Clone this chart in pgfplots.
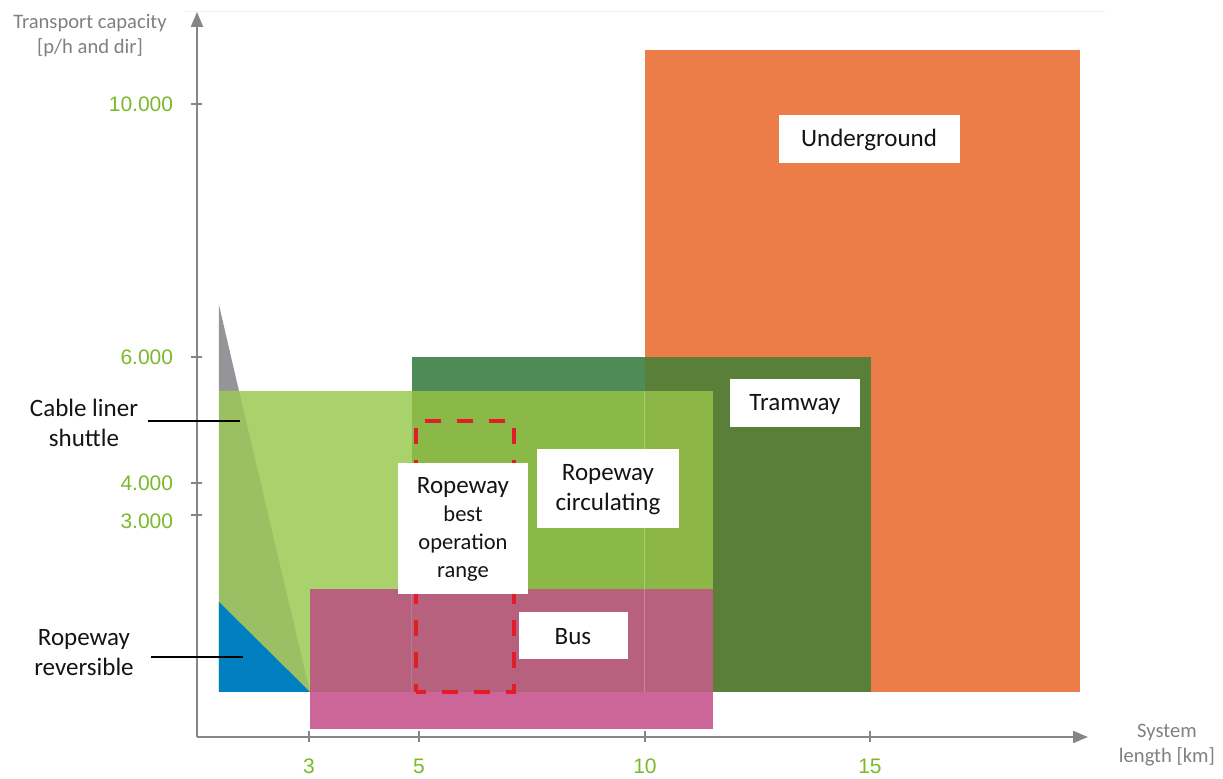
\documentclass[border=0pt]{standalone}
\usepackage{pgfplots}
\pgfplotsset{compat=1.18}
\usepackage{fontspec}
\setmainfont{Carlito}
\newfontfamily\arialfont{Liberation Sans}
\usetikzlibrary{arrows.meta}
\definecolor{axisgray}{RGB}{134,134,134}
\definecolor{titlegray}{RGB}{128,128,128}
\definecolor{tickgreen}{RGB}{122,185,41}
\definecolor{under}{RGB}{237,125,72}
\definecolor{tramw}{RGB}{78,139,86}
\definecolor{tramo}{RGB}{90,127,56}
\definecolor{lgreen}{RGB}{170,210,108}
\definecolor{mgreen}{RGB}{138,185,72}
\definecolor{mgreentwo}{RGB}{140,182,70}
\definecolor{cablegreen}{RGB}{155,192,99}
\definecolor{cablegray}{RGB}{147,149,152}
\definecolor{revblue}{RGB}{0,128,192}
\definecolor{busover}{RGB}{184,97,127}
\definecolor{buswhite}{RGB}{204,102,153}
\definecolor{bestred}{RGB}{225,30,40}
\definecolor{labelblack}{RGB}{20,20,20}
\newcommand{\lbl}{\fontsize{12.5}{15}\selectfont}
\newcommand{\lblsm}{\fontsize{11.25}{14}\selectfont}
\newcommand{\ttl}{\fontsize{10.3}{12.5}\selectfont}
\newcommand{\tck}{\arialfont\fontsize{10.5}{12}\selectfont}
\begin{document}
\begin{tikzpicture}
\begin{axis}[
  x=0.5pt, y=0.5pt,
  xmin=197, xmax=1088, ymin=41, ymax=766,
  axis lines=left,
  axis line style={draw=axisgray, line width=1.1pt, -{Triangle[length=7.5pt,width=6pt]}},
  enlargelimits=false, clip=false,
  tick align=center, major tick length=5.5pt,
  tick style={draw=axisgray, line width=0.8pt},
  xtick={309,419,645,870}, xticklabels={3,5,10,15},
  ytick={674,421,295}, yticklabels={10.000,6.000,4.000},
  extra y ticks={263}, extra y tick labels={3.000},
  extra y tick style={yticklabel style={yshift=-3pt}},
  xticklabel style={font=\tck, text=tickgreen, anchor=center, yshift=-12pt, inner sep=0pt},
  yticklabel style={font=\tck, text=tickgreen, anchor=east, xshift=-9pt, inner sep=0pt},
]
% Underground
\addplot[fill=under, draw=none] coordinates {(645,86) (1080,86) (1080,728) (645,728)} -- cycle;
% Tramway
\addplot[fill=tramw, draw=none] coordinates {(412,86) (645,86) (645,421) (412,421)} -- cycle;
\addplot[fill=tramo, draw=none] coordinates {(645,86) (871,86) (871,421) (645,421)} -- cycle;
% Ropeway circulating
\addplot[fill=lgreen, draw=none] coordinates {(219,86) (412,86) (412,387) (219,387)} -- cycle;
\addplot[fill=mgreen, draw=none] coordinates {(412,86) (645,86) (645,387) (412,387)} -- cycle;
\addplot[fill=mgreentwo, draw=none] coordinates {(645,86) (713,86) (713,387) (645,387)} -- cycle;
% Cable liner shuttle
\addplot[fill=cablegray, draw=none] coordinates {(219,473) (239,387) (219,387)} -- cycle;
\addplot[fill=cablegreen, draw=none] coordinates {(219,387) (239,387) (310,86) (219,86)} -- cycle;
% Ropeway reversible
\addplot[fill=revblue, draw=none] coordinates {(219,176) (310,86) (219,86)} -- cycle;
% Bus
\addplot[fill=busover, draw=none] coordinates {(310,86) (713,86) (713,189) (310,189)} -- cycle;
\addplot[fill=buswhite, draw=none] coordinates {(310,49) (713,49) (713,86) (310,86)} -- cycle;
% faint edges
\addplot[draw=white, draw opacity=0.25, line width=0.5pt] coordinates {(645,86) (645,387)};
\addplot[draw=white, draw opacity=0.12, line width=0.5pt] coordinates {(412,86) (412,189)};
% best operation range
\addplot[draw=bestred, line width=2pt, dash pattern=on 8pt off 8pt, dash phase=4pt] coordinates {(416,86) (416,357) (514,357) (514,86)} -- cycle;
% label boxes
\addplot[fill=white, draw=none] coordinates {(779,615) (960,615) (960,663) (779,663)} -- cycle;
\addplot[fill=white, draw=none] coordinates {(730,351) (860,351) (860,399) (730,399)} -- cycle;
\addplot[fill=white, draw=none] coordinates {(537,250) (679,250) (679,329) (537,329)} -- cycle;
\addplot[fill=white, draw=none] coordinates {(398,184) (528,184) (528,315) (398,315)} -- cycle;
\addplot[fill=white, draw=none] coordinates {(519,119) (628,119) (628,166) (519,166)} -- cycle;
% leader lines
\addplot[draw=black, line width=0.8pt] coordinates {(148,357) (240,357)};
\addplot[draw=black, line width=0.8pt] coordinates {(151,121) (243,121)};
% faint top line
\addplot[draw=black!6, line width=0.5pt] coordinates {(185,766.5) (1105,766.5)};
% texts
\node[font=\lbl, text=labelblack] at (axis cs:869,638) {Underground};
\node[font=\lbl, text=labelblack] at (axis cs:795,374) {Tramway};
\node[font=\lbl, text=labelblack] at (axis cs:573,141) {Bus};
\node[font=\lbl, text=labelblack, align=center] at (axis cs:608,288.5) {Ropeway\\circulating};
\node[font=\lblsm, text=labelblack, align=center] at (axis cs:463,248.5) {{\lbl Ropeway}\\best\\operation\\range};
\node[font=\lbl, text=labelblack, align=center] at (axis cs:84,355.5) {Cable liner\\shuttle};
\node[font=\lbl, text=labelblack, align=center] at (axis cs:84,125.5) {Ropeway\\reversible};
\node[font=\ttl, text=titlegray, align=center] at (axis cs:90,742.5) {Transport capacity\\{}[p/h and dir]};
\node[font=\ttl, text=titlegray, align=center] at (axis cs:1167,33) {System\\length [km]};
\coordinate (BL) at (axis cs:0,0);
\coordinate (TR) at (axis cs:1223,778);
\end{axis}
\pgfresetboundingbox
\path[use as bounding box] (BL) rectangle (TR);
\end{tikzpicture}
\end{document}
